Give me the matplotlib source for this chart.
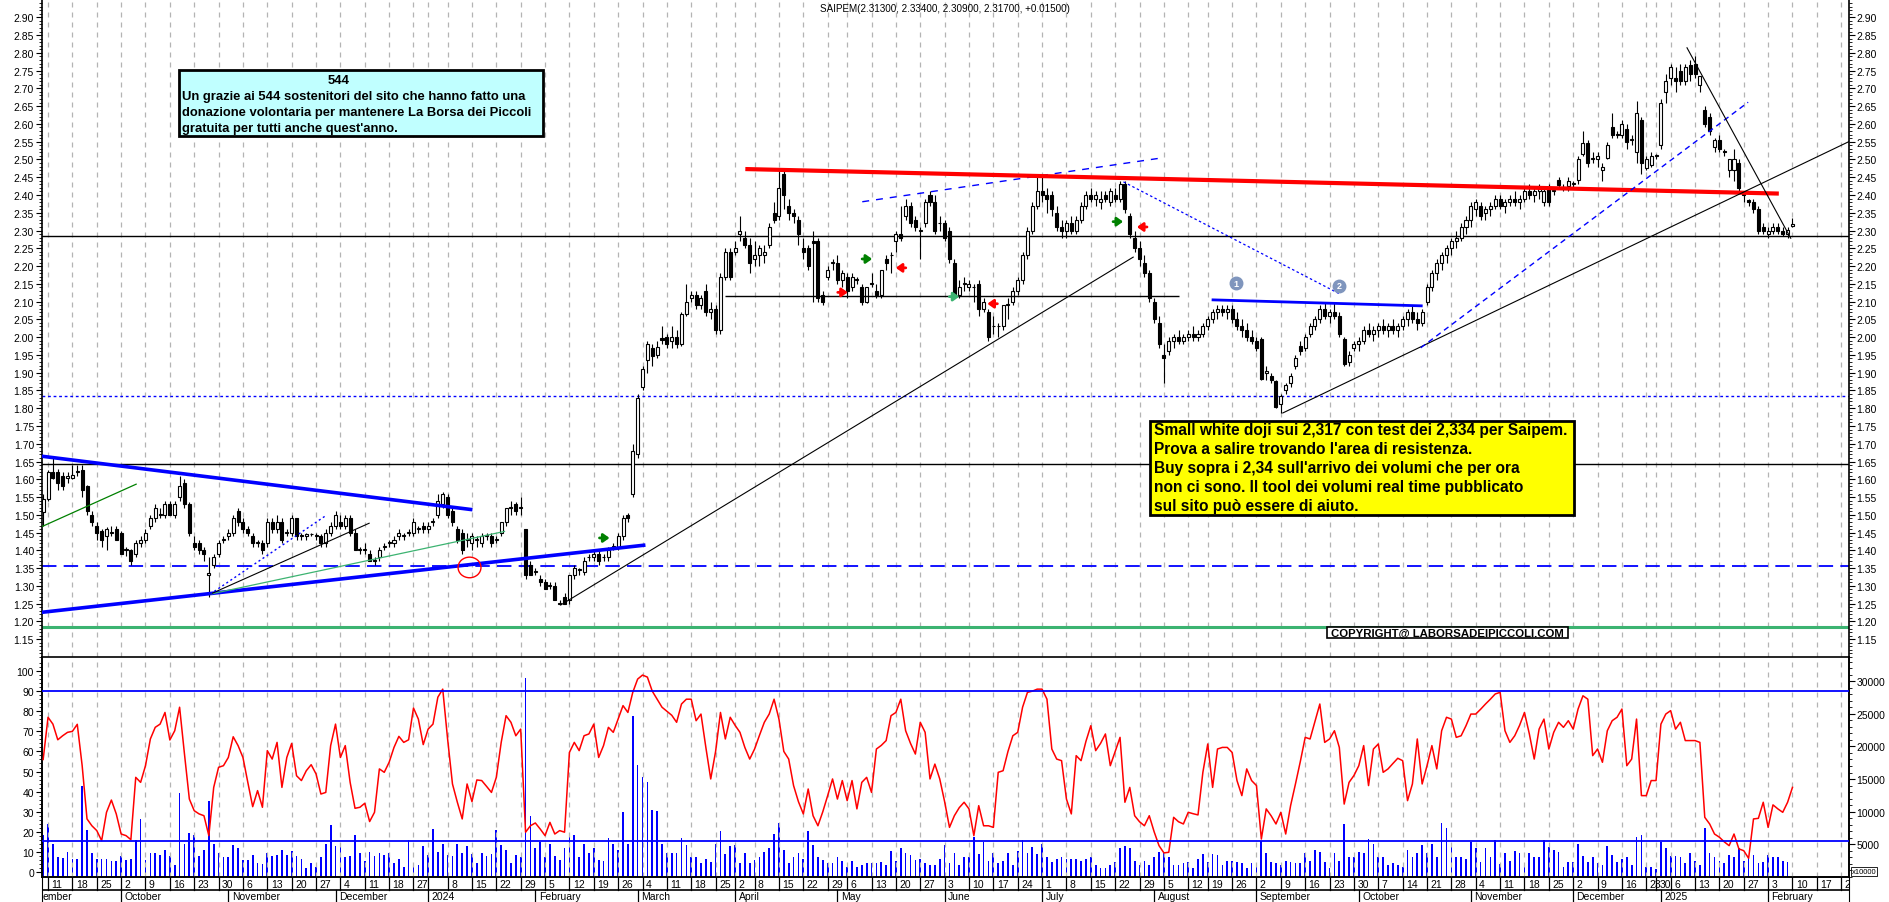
import numpy as np
import pandas as pd
import matplotlib
matplotlib.use('Agg')
import matplotlib.pyplot as plt
from matplotlib.patches import Rectangle, Ellipse

plt.rcParams['font.family'] = ['Liberation Sans', 'DejaVu Sans']

W, H = 1890, 903

# ---------------- data ----------------
holidays = ['2023-12-25', '2023-12-26', '2024-01-01', '2024-03-29', '2024-04-01',
            '2024-05-01', '2024-08-15', '2024-12-24', '2024-12-25', '2024-12-26',
            '2024-12-31', '2025-01-01']

opens = [
    1.507, 1.545, 1.62, 1.62, 1.61, 1.605, 1.605, 1.62, 1.625, 1.58,
    1.50, 1.47, 1.455, 1.44, 1.45, 1.46, 1.45, 1.40, 1.40, 1.39,
    1.42, 1.43, 1.47, 1.49, 1.50, 1.50, 1.53, 1.50, 1.55, 1.59,
    1.53, 1.42, 1.42, 1.40, 1.33, 1.36, 1.39, 1.43, 1.44, 1.45,
    1.51, 1.48, 1.46, 1.44, 1.42, 1.42, 1.42, 1.48, 1.46, 1.48,
    1.45, 1.45, 1.49, 1.44, 1.44, 1.445, 1.44, 1.44, 1.42, 1.45,
    1.47, 1.48, 1.47, 1.49, 1.45, 1.40, 1.40, 1.39, 1.37, 1.38,
    1.41, 1.42, 1.42, 1.44, 1.44, 1.45, 1.45, 1.46, 1.47, 1.46,
    1.48, 1.50, 1.53, 1.55, 1.51, 1.46, 1.45, 1.43, 1.42, 1.43,
    1.42, 1.44, 1.44, 1.43, 1.45, 1.48, 1.52, 1.53, 1.52, 1.46,
    1.36, 1.34, 1.32, 1.31, 1.30, 1.30, 1.25, 1.27, 1.26, 1.33,
    1.345, 1.34, 1.38, 1.38, 1.39, 1.38, 1.38, 1.41, 1.41, 1.44,
    1.50, 1.56, 1.67, 1.86, 1.935, 1.97, 1.95, 1.998, 2.00, 1.99,
    2.00, 1.98, 2.065, 2.11, 2.12, 2.09, 2.13, 2.07, 2.08, 2.02,
    2.17, 2.24, 2.24, 2.29, 2.28, 2.26, 2.22, 2.23, 2.23, 2.26,
    2.35, 2.34, 2.46, 2.37, 2.35, 2.33, 2.25, 2.25, 2.27, 2.27,
    2.12, 2.17, 2.21, 2.21, 2.16, 2.17, 2.14, 2.16, 2.14, 2.10,
    2.15, 2.13, 2.12, 2.22, 2.23, 2.27, 2.29, 2.34, 2.37, 2.33,
    2.30, 2.32, 2.40, 2.38, 2.32, 2.32, 2.30, 2.21, 2.12, 2.15,
    2.14, 2.14, 2.15, 2.08, 2.07, 2.03, 2.03, 2.03, 2.09, 2.10,
    2.13, 2.16, 2.23, 2.30, 2.37, 2.41, 2.40, 2.40, 2.35, 2.31,
    2.30, 2.32, 2.30, 2.33, 2.37, 2.40, 2.39, 2.38, 2.40, 2.38,
    2.40, 2.39, 2.43, 2.34, 2.28, 2.25, 2.21, 2.18, 2.10, 2.04,
    1.95, 1.96, 1.99, 2.00, 1.99, 2.00, 2.01, 2.00, 2.01, 2.03,
    2.05, 2.07, 2.08, 2.07, 2.08, 2.05, 2.03, 2.02, 2.00, 1.99,
    1.995, 1.90, 1.89, 1.878, 1.812, 1.85, 1.87, 1.92, 1.976, 1.97,
    2.01, 2.03, 2.05, 2.08, 2.06, 2.07, 2.06, 1.995, 1.93, 1.97,
    1.98, 1.99, 2.02, 2.01, 2.02, 2.03, 2.02, 2.03, 2.02, 2.03,
    2.05, 2.07, 2.05, 2.04, 2.10, 2.14, 2.18, 2.21, 2.23, 2.25,
    2.27, 2.28, 2.31, 2.33, 2.36, 2.37, 2.35, 2.36, 2.37, 2.39,
    2.37, 2.38, 2.39, 2.38, 2.39, 2.41, 2.40, 2.41, 2.38, 2.42,
    2.41, 2.441, 2.42, 2.425, 2.43, 2.441, 2.515, 2.545, 2.50, 2.50,
    2.47, 2.505, 2.59, 2.57, 2.57, 2.585, 2.555, 2.52, 2.61, 2.475,
    2.485, 2.51, 2.54, 2.69, 2.73, 2.73, 2.75, 2.72, 2.765, 2.77,
    2.71, 2.64, 2.62, 2.535, 2.555, 2.525, 2.47, 2.47, 2.49, 2.40,
    2.385, 2.38, 2.36, 2.31, 2.29, 2.30, 2.31, 2.30, 2.29, 2.313,
]
highs = [
    1.56, 1.625, 1.66, 1.63, 1.62, 1.62, 1.64, 1.64, 1.64, 1.585,
    1.51, 1.48, 1.46, 1.465, 1.47, 1.47, 1.455, 1.41, 1.405, 1.43,
    1.44, 1.46, 1.50, 1.53, 1.52, 1.54, 1.54, 1.54, 1.61, 1.60,
    1.535, 1.44, 1.43, 1.41, 1.38, 1.39, 1.43, 1.44, 1.46, 1.50,
    1.52, 1.49, 1.47, 1.45, 1.43, 1.43, 1.49, 1.49, 1.50, 1.49,
    1.46, 1.50, 1.49, 1.45, 1.45, 1.45, 1.45, 1.445, 1.46, 1.48,
    1.51, 1.50, 1.50, 1.50, 1.46, 1.41, 1.42, 1.40, 1.38, 1.41,
    1.42, 1.43, 1.44, 1.46, 1.45, 1.46, 1.49, 1.47, 1.48, 1.48,
    1.49, 1.56, 1.565, 1.56, 1.52, 1.47, 1.46, 1.45, 1.45, 1.44,
    1.45, 1.45, 1.45, 1.44, 1.48, 1.52, 1.54, 1.535, 1.55, 1.46,
    1.37, 1.35, 1.33, 1.32, 1.31, 1.31, 1.26, 1.28, 1.33, 1.36,
    1.35, 1.38, 1.39, 1.40, 1.40, 1.39, 1.41, 1.42, 1.45, 1.50,
    1.505, 1.70, 1.84, 1.92, 1.99, 1.98, 1.99, 2.03, 2.01, 2.03,
    2.02, 2.07, 2.15, 2.13, 2.13, 2.12, 2.15, 2.10, 2.09, 2.18,
    2.25, 2.25, 2.27, 2.34, 2.30, 2.28, 2.27, 2.26, 2.26, 2.32,
    2.38, 2.47, 2.47, 2.39, 2.36, 2.34, 2.28, 2.26, 2.30, 2.28,
    2.13, 2.20, 2.22, 2.23, 2.19, 2.18, 2.18, 2.17, 2.15, 2.14,
    2.18, 2.15, 2.19, 2.23, 2.24, 2.30, 2.37, 2.39, 2.38, 2.34,
    2.31, 2.39, 2.41, 2.40, 2.34, 2.33, 2.31, 2.22, 2.16, 2.17,
    2.16, 2.15, 2.16, 2.11, 2.08, 2.06, 2.04, 2.09, 2.11, 2.14,
    2.17, 2.24, 2.31, 2.38, 2.45, 2.46, 2.42, 2.41, 2.37, 2.33,
    2.33, 2.34, 2.34, 2.38, 2.41, 2.42, 2.41, 2.41, 2.41, 2.42,
    2.42, 2.44, 2.44, 2.35, 2.30, 2.27, 2.23, 2.19, 2.11, 2.06,
    1.98, 2.00, 2.01, 2.02, 2.01, 2.02, 2.03, 2.02, 2.04, 2.06,
    2.08, 2.09, 2.09, 2.09, 2.09, 2.07, 2.05, 2.04, 2.02, 2.00,
    2.00, 1.92, 1.90, 1.88, 1.84, 1.87, 1.90, 1.95, 1.99, 2.01,
    2.04, 2.06, 2.09, 2.10, 2.08, 2.10, 2.07, 2.00, 1.96, 1.99,
    2.00, 2.03, 2.04, 2.03, 2.04, 2.05, 2.04, 2.05, 2.04, 2.06,
    2.08, 2.09, 2.07, 2.08, 2.15, 2.19, 2.22, 2.24, 2.26, 2.28,
    2.30, 2.32, 2.34, 2.38, 2.39, 2.38, 2.37, 2.38, 2.40, 2.40,
    2.39, 2.40, 2.41, 2.40, 2.42, 2.43, 2.42, 2.43, 2.42, 2.43,
    2.42, 2.45, 2.43, 2.45, 2.44, 2.51, 2.58, 2.555, 2.52, 2.52,
    2.49, 2.55, 2.63, 2.58, 2.61, 2.60, 2.57, 2.665, 2.62, 2.51,
    2.52, 2.515, 2.67, 2.74, 2.77, 2.76, 2.77, 2.77, 2.78, 2.79,
    2.735, 2.65, 2.63, 2.56, 2.57, 2.53, 2.50, 2.53, 2.50, 2.41,
    2.39, 2.39, 2.37, 2.32, 2.31, 2.32, 2.32, 2.31, 2.31, 2.334,
]
lows = [
    1.47, 1.54, 1.60, 1.57, 1.57, 1.59, 1.60, 1.61, 1.55, 1.50,
    1.47, 1.43, 1.41, 1.40, 1.44, 1.43, 1.39, 1.385, 1.36, 1.38,
    1.41, 1.42, 1.46, 1.48, 1.49, 1.49, 1.50, 1.49, 1.54, 1.52,
    1.44, 1.40, 1.39, 1.37, 1.27, 1.35, 1.38, 1.42, 1.43, 1.44,
    1.47, 1.45, 1.44, 1.41, 1.41, 1.39, 1.41, 1.45, 1.45, 1.42,
    1.44, 1.44, 1.43, 1.43, 1.43, 1.44, 1.43, 1.41, 1.41, 1.44,
    1.46, 1.46, 1.46, 1.44, 1.40, 1.39, 1.39, 1.37, 1.36, 1.37,
    1.40, 1.41, 1.41, 1.43, 1.43, 1.44, 1.44, 1.45, 1.45, 1.45,
    1.47, 1.49, 1.52, 1.49, 1.47, 1.42, 1.39, 1.41, 1.40, 1.41,
    1.41, 1.43, 1.41, 1.42, 1.44, 1.47, 1.50, 1.50, 1.50, 1.32,
    1.33, 1.33, 1.30, 1.29, 1.29, 1.26, 1.245, 1.25, 1.25, 1.32,
    1.33, 1.33, 1.37, 1.37, 1.36, 1.37, 1.37, 1.40, 1.40, 1.43,
    1.48, 1.55, 1.66, 1.85, 1.90, 1.92, 1.94, 1.98, 1.97, 1.97,
    1.97, 1.975, 2.06, 2.10, 2.08, 2.08, 2.06, 2.05, 2.01, 2.01,
    2.16, 2.16, 2.23, 2.27, 2.25, 2.18, 2.20, 2.20, 2.21, 2.25,
    2.32, 2.33, 2.36, 2.33, 2.32, 2.26, 2.22, 2.19, 2.10, 2.10,
    2.09, 2.16, 2.19, 2.15, 2.14, 2.11, 2.13, 2.15, 2.09, 2.095,
    2.14, 2.11, 2.11, 2.19, 2.18, 2.24, 2.27, 2.33, 2.31, 2.30,
    2.22, 2.31, 2.37, 2.29, 2.30, 2.27, 2.21, 2.11, 2.11, 2.13,
    2.13, 2.10, 2.06, 2.07, 1.99, 2.01, 2.00, 2.02, 2.05, 2.09,
    2.12, 2.15, 2.22, 2.29, 2.36, 2.38, 2.35, 2.34, 2.30, 2.28,
    2.28, 2.29, 2.29, 2.32, 2.36, 2.38, 2.37, 2.36, 2.38, 2.37,
    2.38, 2.38, 2.35, 2.28, 2.24, 2.20, 2.17, 2.10, 2.04, 1.97,
    1.87, 1.95, 1.97, 1.98, 1.98, 1.99, 1.99, 1.99, 2.00, 2.02,
    2.04, 2.05, 2.06, 2.05, 2.04, 2.02, 2.00, 1.99, 1.98, 1.96,
    1.88, 1.88, 1.87, 1.80, 1.786, 1.84, 1.86, 1.91, 1.95, 1.96,
    2.00, 2.02, 2.04, 2.05, 2.04, 2.05, 2.00, 1.92, 1.92, 1.96,
    1.96, 1.98, 2.00, 1.99, 2.00, 2.01, 2.00, 2.01, 2.00, 2.02,
    2.03, 2.04, 2.02, 2.03, 2.09, 2.13, 2.16, 2.19, 2.21, 2.23,
    2.25, 2.27, 2.29, 2.31, 2.34, 2.33, 2.33, 2.34, 2.36, 2.36,
    2.35, 2.37, 2.37, 2.36, 2.38, 2.39, 2.38, 2.39, 2.37, 2.37,
    2.40, 2.42, 2.41, 2.41, 2.42, 2.43, 2.51, 2.48, 2.49, 2.48,
    2.44, 2.50, 2.56, 2.56, 2.56, 2.53, 2.54, 2.49, 2.46, 2.47,
    2.48, 2.50, 2.53, 2.66, 2.71, 2.69, 2.71, 2.71, 2.72, 2.73,
    2.69, 2.59, 2.57, 2.52, 2.52, 2.51, 2.45, 2.44, 2.41, 2.38,
    2.37, 2.35, 2.29, 2.29, 2.28, 2.29, 2.29, 2.285, 2.28, 2.309,
]
closes = [
    1.545, 1.62, 1.605, 1.59, 1.58, 1.61, 1.612, 1.62, 1.57, 1.51,
    1.48, 1.45, 1.43, 1.46, 1.452, 1.43, 1.39, 1.402, 1.37, 1.42,
    1.43, 1.45, 1.49, 1.52, 1.502, 1.53, 1.50, 1.53, 1.58, 1.53,
    1.45, 1.41, 1.40, 1.39, 1.335, 1.38, 1.42, 1.432, 1.45, 1.49,
    1.48, 1.46, 1.45, 1.42, 1.422, 1.40, 1.48, 1.46, 1.48, 1.43,
    1.452, 1.49, 1.44, 1.442, 1.445, 1.447, 1.442, 1.42, 1.45, 1.47,
    1.50, 1.47, 1.49, 1.45, 1.40, 1.40, 1.402, 1.37, 1.372, 1.40,
    1.412, 1.422, 1.43, 1.45, 1.442, 1.452, 1.48, 1.462, 1.46, 1.47,
    1.482, 1.54, 1.56, 1.50, 1.48, 1.43, 1.40, 1.432, 1.44, 1.432,
    1.44, 1.442, 1.42, 1.432, 1.48, 1.52, 1.522, 1.51, 1.52, 1.33,
    1.33, 1.342, 1.31, 1.29, 1.302, 1.26, 1.252, 1.25, 1.33, 1.35,
    1.346, 1.37, 1.382, 1.39, 1.37, 1.382, 1.40, 1.412, 1.44, 1.49,
    1.49, 1.68, 1.83, 1.91, 1.98, 1.946, 1.973, 1.993, 1.98, 2.00,
    1.982, 2.065, 2.10, 2.12, 2.09, 2.11, 2.07, 2.08, 2.02, 2.17,
    2.24, 2.17, 2.25, 2.30, 2.26, 2.21, 2.23, 2.25, 2.24, 2.31,
    2.33, 2.42, 2.40, 2.35, 2.34, 2.29, 2.24, 2.20, 2.265, 2.11,
    2.10, 2.19, 2.212, 2.16, 2.18, 2.13, 2.17, 2.162, 2.10, 2.14,
    2.152, 2.12, 2.19, 2.21, 2.232, 2.29, 2.28, 2.37, 2.32, 2.31,
    2.302, 2.38, 2.38, 2.30, 2.322, 2.28, 2.22, 2.12, 2.14, 2.152,
    2.15, 2.142, 2.08, 2.10, 2.00, 2.032, 2.03, 2.09, 2.092, 2.13,
    2.16, 2.23, 2.30, 2.37, 2.41, 2.40, 2.39, 2.36, 2.31, 2.30,
    2.32, 2.30, 2.33, 2.37, 2.40, 2.39, 2.40, 2.39, 2.39, 2.41,
    2.39, 2.43, 2.36, 2.29, 2.25, 2.22, 2.18, 2.11, 2.05, 1.98,
    1.94, 1.99, 2.00, 1.99, 2.00, 2.01, 2.00, 2.01, 2.03, 2.05,
    2.07, 2.08, 2.07, 2.08, 2.05, 2.03, 2.02, 2.00, 1.99, 1.97,
    1.883, 1.904, 1.88, 1.803, 1.834, 1.866, 1.89, 1.94, 1.96, 2.00,
    2.03, 2.05, 2.08, 2.06, 2.07, 2.06, 2.01, 1.925, 1.95, 1.98,
    1.99, 2.02, 2.01, 2.02, 2.03, 2.02, 2.03, 2.02, 2.03, 2.05,
    2.07, 2.05, 2.04, 2.07, 2.14, 2.18, 2.21, 2.23, 2.25, 2.27,
    2.28, 2.31, 2.33, 2.37, 2.38, 2.34, 2.36, 2.37, 2.39, 2.37,
    2.38, 2.39, 2.38, 2.39, 2.41, 2.40, 2.41, 2.42, 2.41, 2.38,
    2.415, 2.427, 2.422, 2.44, 2.432, 2.502, 2.545, 2.49, 2.505, 2.51,
    2.48, 2.54, 2.57, 2.572, 2.60, 2.55, 2.556, 2.63, 2.49, 2.50,
    2.51, 2.51, 2.66, 2.72, 2.76, 2.72, 2.72, 2.76, 2.74, 2.74,
    2.735, 2.60, 2.58, 2.555, 2.53, 2.522, 2.50, 2.50, 2.42, 2.402,
    2.38, 2.36, 2.30, 2.30, 2.30, 2.31, 2.30, 2.29, 2.302, 2.317,
]

# volume in thousands (right axis labels are in units of 1)
volume_k = [
    6.5, 8.1, 5.1, 3.1, 2.9, 3.8, 2.7, 2.7, 14.0, 7.2,
    3.7, 2.8, 2.8, 2.7, 2.4, 2.4, 3.2, 2.6, 2.8, 5.6,
    8.9, 2.6, 3.7, 3.7, 3.4, 4.2, 3.2, 1.8, 12.8, 5.1,
    6.8, 6.4, 3.2, 4.1, 11.7, 5.1, 3.6, 3.1, 3.1, 4.9,
    4.4, 2.6, 2.6, 3.4, 2.2, 2.0, 3.6, 3.2, 3.3, 4.2,
    3.4, 4.0, 3.2, 2.8, 1.4, 2.2, 1.5, 3.0, 5.0, 8.0,
    4.8, 4.6, 3.0, 3.2, 6.4, 3.6, 2.5, 3.8, 3.2, 3.6,
    3.4, 3.7, 2.1, 2.8, 1.6, 5.7, 1.6, 1.8, 4.7, 3.3,
    7.4, 3.9, 5.1, 3.4, 3.2, 5.0, 3.7, 4.7, 3.5, 2.2,
    3.6, 3.2, 3.5, 7.2, 4.9, 4.1, 2.2, 3.3, 3.0, 30.5,
    9.4, 4.4, 5.3, 3.1, 5.0, 3.2, 2.6, 4.4, 6.5, 6.5,
    3.1, 5.0, 3.7, 4.5, 2.6, 2.4, 5.9, 5.1, 4.2, 10.0,
    5.1, 24.7, 17.1, 15.3, 14.5, 10.3, 10.1, 5.1, 3.7, 3.7,
    3.7, 5.9, 4.9, 3.0, 3.0, 2.2, 2.8, 2.3, 5.1, 7.1,
    3.5, 4.7, 4.9, 2.2, 3.7, 2.2, 2.6, 3.1, 3.8, 4.4,
    6.6, 8.3, 4.2, 2.1, 3.0, 3.6, 2.8, 7.1, 4.9, 3.0,
    2.6, 2.2, 2.1, 3.0, 2.5, 1.6, 2.5, 1.6, 1.9, 2.2,
    2.2, 2.1, 2.3, 1.8, 4.0, 2.5, 4.5, 3.7, 3.3, 2.6,
    2.8, 2.2, 1.8, 1.8, 2.8, 4.9, 2.2, 3.6, 1.8, 3.0,
    3.0, 6.2, 3.5, 5.4, 2.4, 3.7, 2.2, 2.5, 3.7, 1.8,
    4.0, 5.6, 3.7, 4.6, 3.5, 5.1, 3.1, 2.3, 2.8, 3.1,
    2.8, 2.8, 2.8, 2.5, 2.8, 3.0, 1.8, 1.4, 1.4, 1.8,
    2.3, 4.5, 4.7, 4.5, 2.5, 1.9, 2.5, 1.9, 3.1, 3.8,
    3.7, 3.1, 1.9, 1.9, 2.2, 2.3, 1.4, 2.8, 3.5, 2.3,
    3.5, 3.3, 1.9, 2.5, 2.5, 2.3, 2.2, 1.4, 2.2, 2.0,
    5.5, 3.6, 2.3, 2.2, 1.8, 2.5, 2.3, 2.2, 2.1, 3.7,
    2.5, 4.2, 3.9, 2.3, 1.4, 3.7, 2.5, 8.1, 3.1, 3.0,
    3.9, 3.7, 5.8, 5.1, 3.1, 3.1, 1.8, 2.2, 1.8, 1.6,
    4.2, 3.0, 3.6, 4.9, 3.7, 5.0, 3.0, 8.3, 7.5, 5.1,
    3.1, 3.1, 2.8, 5.4, 4.4, 2.3, 4.5, 3.0, 5.6, 2.0,
    3.6, 2.5, 4.0, 3.6, 2.2, 3.6, 3.0, 3.1, 5.6, 4.6,
    4.1, 3.9, 1.6, 2.3, 2.3, 5.0, 3.2, 2.3, 3.0, 2.1,
    1.9, 4.8, 3.4, 2.3, 2.7, 3.0, 1.8, 6.2, 6.5, 1.6,
    1.6, 1.3, 5.4, 4.5, 3.2, 3.2, 3.1, 2.2, 3.6, 2.5,
    1.8, 7.5, 3.7, 3.1, 2.5, 2.2, 3.4, 3.0, 4.4, 2.5,
    2.9, 3.4, 2.2, 2.3, 3.4, 3.1, 3.1, 2.5, 2.3, 0.5,
]

rsi = [
    56, 77, 73.6, 65.8, 67.8, 69.5, 70, 73.5, 53, 26.4,
    23, 20.6, 15.6, 29.7, 35.8, 28.9, 18.9, 18.1, 16.1, 47.1,
    44.6, 52.9, 66.2, 72, 73.6, 79.4, 65.7, 70.3, 82, 58.7,
    36.3, 30.5, 28.9, 28, 18.1, 42.1, 52.1, 52.9, 57, 67.3,
    62.9, 57, 44.6, 32.5, 40.5, 32.2, 60.4, 56.2, 64.5, 42.1,
    57, 64, 47.9, 45.5, 50.4, 53.4, 48.8, 38.8, 39.6, 62.9,
    73.6, 57, 62.9, 44.6, 31.7, 32.2, 34.2, 25.1, 29.7, 51.3,
    49.6, 54.6, 62, 67.5, 64.5, 65.8, 81.6, 76.1, 63.4, 71.1,
    73.6, 87, 91, 66.2, 43.8, 34.7, 26.4, 43.8, 35, 45.8,
    45.5, 42.6, 39.6, 47.1, 64.5, 77.8, 74.5, 67.8, 71.1, 19.8,
    23, 24.4, 21.4, 18.1, 24.7, 18.9, 20.6, 19.8, 59.5, 64.5,
    60.4, 67.8, 68.7, 73.6, 57, 62.9, 72, 69.5, 76.1, 82.8,
    79.4, 89.4, 96, 98, 97, 90, 86, 82, 80, 78,
    74.5, 83.6, 86, 86, 75.3, 78.6, 62, 46.3, 60, 79.4,
    66.2, 77, 73, 69.5, 62, 56.2, 61.2, 68, 74.5, 78.6,
    86, 76.1, 60, 56.2, 43, 35, 28.9, 41.3, 28, 23,
    30, 38, 46.3, 36.3, 45.5, 35.5, 45.5, 31.4, 44.6, 47.1,
    39.6, 61.2, 63, 65.4, 77.8, 79.4, 86, 70.3, 64, 58.7,
    74.5, 69.5, 46.3, 53.7, 46.3, 35, 22.2, 28, 32, 34.7,
    31.4, 18.1, 33, 23, 23, 22.2, 49.6, 50.4, 60, 67.8,
    69.5, 82, 89.4, 90, 91, 91, 86, 61.2, 56.2, 55.4,
    36.3, 28.9, 57.9, 55.4, 65, 72.8, 60.4, 64, 68.7, 52.9,
    60, 67, 34.7, 42.1, 28, 25, 23, 28, 20, 13.1,
    9.5, 9.8, 27.2, 25, 23.9, 29.7, 29, 28.4, 49.6, 63.7,
    42.1, 61.2, 62, 62, 59.5, 45.5, 38, 51.3, 45.5, 43,
    16.4, 31.4, 28, 23.9, 29.7, 18.9, 33, 43.8, 55, 67,
    66.2, 75, 83.6, 64.5, 66.2, 70.3, 62, 33.8, 44.6, 48,
    52.9, 62.9, 43, 61.2, 63.7, 49.6, 51.3, 54, 56.6, 55.4,
    35.5, 43.8, 66.2, 43.8, 52.9, 62.9, 51.3, 70.3, 77, 76.1,
    67, 67.8, 72.8, 78.6, 78.6, 81, 83.6, 86, 88.6, 89.4,
    70.3, 64.5, 67.8, 73, 79.4, 68.7, 56.2, 71.1, 76.1, 61.2,
    69.5, 74.5, 72, 75.3, 71.1, 81.1, 87.7, 86, 57.9, 61.2,
    54.6, 70.3, 75.3, 77, 81.1, 52.9, 56.2, 76.1, 38, 38,
    45.5, 45.5, 73.6, 78.6, 80.3, 71.1, 74.5, 65.4, 65.4, 65.4,
    64.5, 27.2, 23.9, 18.9, 17.3, 15, 13.1, 18.9, 11.5, 10.6,
    6.8, 26.4, 26.7, 34.7, 22.2, 33.4, 31.4, 29.7, 34.7, 42.1,
]

month_names = ['January', 'February', 'March', 'April', 'May', 'June', 'July',
               'August', 'September', 'October', 'November', 'December']

# horizontal levels (price, color, linestyle, width)
h_levels = [
    (2.285, 'black', '-', 1.0),
    (1.8335, '#0000ff', (0, (2, 2)), 1.0),
    (1.642, 'black', '-', 1.0),
    (1.355, '#0000ff', (0, (8, 4)), 1.3),
    (1.1845, '#3cb371', '-', 2.2),
]

# drawn trend lines: (x0, y0, x1, y1, color, linestyle, width)
trend_lines = [
    (-0.3, 1.665, 88.1, 1.5145, '#0000ff', '-', 2.6),
    (-0.3, 1.2257, 123.6, 1.415, '#0000ff', '-', 2.6),
    (-0.3, 1.4667, 19.2, 1.587, '#008000', '-', 0.9),
    (34.3, 1.277, 94.8, 1.4537, '#3cb371', '-', 0.9),
    (34.3, 1.277, 67.0, 1.477, 'black', '-', 0.8),
    (34.3, 1.277, 58.2, 1.4996, '#0000ff', (0, (1.5, 2)), 1.0),
    (106.2, 1.2463, 223.8, 2.226, 'black', '-', 0.8),
    (140.0, 2.116, 233.2, 2.116, 'black', '-', 1.0),
    (168.1, 2.381, 228.9, 2.503, '#0000ff', (0, (5, 5)), 1.0),
    (144.1, 2.473, 356.2, 2.404, '#ff0000', '-', 3.0),
    (221.7, 2.437, 266.3, 2.120, '#0000ff', (0, (2, 2)), 0.9),
    (239.8, 2.105, 283.1, 2.088, '#0000ff', '-', 2.0),
    (254.3, 1.786, 370.7, 2.551, 'black', '-', 0.8),
    (282.7, 1.970, 349.9, 2.661, '#0000ff', (0, (4, 3)), 1.0),
    (337.3, 2.8156, 358.7, 2.277, 'black', '-', 0.8),
]

# small marker arrows (x, y, direction, color)
arrows = [
    (115.2, 1.435, 1, '#008000'),
    (169.1, 2.220, 1, '#008000'),
    (176.0, 2.195, -1, '#ff0000'),
    (164.1, 2.126, 1, '#ff0000'),
    (187.0, 2.114, 1, '#3cb371'),
    (194.8, 2.094, -1, '#ff0000'),
    (220.6, 2.325, 1, '#008000'),
    (225.5, 2.310, -1, '#ff0000'),
]
circled_numbers = [(244.7, 2.151, '1'), (265.9, 2.144, '2')]

# ---------------- axes geometry ----------------
n = len(closes)
x = np.arange(n)

days = pd.bdate_range('2023-08-28', '2025-02-28')
days = days[~days.isin(pd.to_datetime(holidays))]
pos0 = days.get_loc(pd.Timestamp('2023-09-08'))
day_x = np.arange(len(days)) - pos0

xmin, xmax = -0.3, 370.6

fig = plt.figure(figsize=(W / 100, H / 100), dpi=100)
left_px, right_px = 41.7, 1849
ax = fig.add_axes([left_px / W, 1 - 658 / H, (right_px - left_px) / W, 658 / H])
ax2 = fig.add_axes([left_px / W, 1 - 878 / H, (right_px - left_px) / W, 220 / H], sharex=ax)
ax3 = fig.add_axes([left_px / W, 0, (right_px - left_px) / W, 25 / H], sharex=ax)
axv = ax2.twinx()
axv.set_zorder(1)
ax2.set_zorder(2)
ax2.patch.set_visible(False)

ax.set_xlim(xmin, xmax)
ax.set_ylim(1.100, 2.9515)

# week start gridlines
week_key = days.isocalendar().year.astype(str) + '-' + days.isocalendar().week.astype(str)
ws = pd.Series(day_x, index=days).groupby(week_key.values).min()
week_starts = sorted(ws.values)
for w in week_starts:
    if xmin < w < xmax:
        for a in (ax, ax2):
            a.axvline(w, color='#b4b4b4', ls=(0, (4, 4)), lw=0.9, zorder=0)

# horizontal levels
for yv, col, ls, lw in h_levels:
    ax.axhline(yv, color=col, ls=ls, lw=lw, zorder=2)

# trend lines
for x0, y0, x1, y1, col, ls, lw in trend_lines:
    ax.plot([x0, x1], [y0, y1], color=col, ls=ls, lw=lw, zorder=5, solid_capstyle='butt')

# candles
o = np.array(opens); hi = np.array(highs); lo = np.array(lows); c = np.array(closes)
up = c >= o
ax.vlines(x, lo, hi, color='black', lw=0.8, zorder=3)
body_lo = np.minimum(o, c)
body_h = np.maximum(np.abs(c - o), 0.0025)
ax.bar(x[up], body_h[up], bottom=body_lo[up], width=0.62, color='white',
       edgecolor='black', linewidth=0.8, zorder=4)
ax.bar(x[~up], body_h[~up], bottom=body_lo[~up], width=0.62, color='black',
       edgecolor='black', linewidth=0.8, zorder=4)

# red circle
ax.add_patch(Ellipse((87.5, 1.352), 4.7, 0.058, fill=False, ec='#ff0000', lw=1.0, zorder=6))

# arrows
for ax_, ay, d, col in arrows:
    ax.annotate('', xy=(ax_ + 1.6 * d, ay), xytext=(ax_ - 1.6 * d, ay),
                arrowprops=dict(arrowstyle='-|>,head_width=0.25,head_length=0.35',
                                color=col, lw=2.0), zorder=7)

for cx, cy, t in circled_numbers:
    ax.plot(cx, cy, 'o', ms=9, color='#7f95bd', zorder=7)
    ax.text(cx, cy, t, color='white', fontsize=6.5, fontweight='bold',
            ha='center', va='center', zorder=8)

# price axis ticks
major = np.round(np.arange(1.15, 2.9001, 0.05), 2)
ax.set_yticks(major)
ax.set_yticklabels([f'{v:.2f}' for v in major])
ax.set_yticks(np.round(np.arange(1.10, 2.95, 0.01), 2), minor=True)
ax.tick_params(axis='y', which='major', left=True, right=True, labelleft=True,
               labelright=True, direction='out', length=4, width=0.8, labelsize=7.5, pad=1.5)
ax.tick_params(axis='y', which='minor', left=True, right=True, direction='out',
               length=2, width=0.6)
ax.tick_params(axis='x', which='both', bottom=False, labelbottom=False)
ax.spines['top'].set_visible(False)
for s in ('left', 'right', 'bottom'):
    ax.spines[s].set_linewidth(1.2)

# lower panel: oscillator + volume
axv.bar(x, np.array(volume_k) * 1000, width=0.35, color='#0000ff', zorder=2)
axv.set_ylim(0, 33700)
axv.set_yticks(np.arange(5000, 30001, 5000))
axv.set_yticks(np.arange(0, 33001, 1000), minor=True)
axv.tick_params(axis='y', which='major', direction='out', length=4, width=0.8,
                labelsize=7.5, pad=1.5)
axv.tick_params(axis='y', which='minor', direction='out', length=2, width=0.6)

ax2.plot(x, rsi, color='#ff0000', lw=1.1, zorder=3)
ax2.axhline(90, color='#0000ff', lw=1.3, zorder=4)
ax2.axhline(15.5, color='#0000ff', lw=1.3, zorder=4)
ax2.set_ylim(-2.5, 107)
ax2.set_yticks(np.arange(0, 101, 10))
ax2.set_yticks(np.arange(0, 105, 2), minor=True)
ax2.tick_params(axis='y', which='major', direction='out', length=4, width=0.8,
                labelsize=7.5, pad=1.5)
ax2.tick_params(axis='y', which='minor', direction='out', length=2, width=0.6)
ax2.tick_params(axis='x', which='both', bottom=False, labelbottom=False)
for a in (ax2, axv):
    a.spines['top'].set_visible(False)
    for s in ('left', 'right', 'bottom'):
        a.spines[s].set_linewidth(1.2)

# date strip
ax3.set_ylim(0, 1)
ax3.set_yticks([])
ax3.tick_params(axis='x', which='both', bottom=False, labelbottom=False)
ax3.spines['top'].set_visible(False)
ax3.spines['bottom'].set_visible(False)
ax3.axhline(0.48, color='black', lw=1.2)
year_starts = set()
mon = pd.Series(day_x, index=days).groupby([days.year, days.month]).min()
for (yy, mm), mx in mon.items():
    if mm == 1:
        year_starts.add(mx)
for w in week_starts:
    if xmin < w < xmax:
        ax3.plot([w, w], [0.48, 1], color='black', lw=0.9)
        if w in year_starts:
            continue
        d = days[list(day_x).index(w)]
        ax3.text(w + 0.7, 0.73, str(d.day), fontsize=7.5, ha='left', va='center', clip_on=True)
for (yy, mm), mx in mon.items():
    if mx > xmax:
        continue
    if mx > xmin:
        ax3.plot([mx, mx], [0, 0.48], color='black', lw=0.9)
        label = str(yy) if mm == 1 else month_names[mm - 1]
        ax3.text(mx + 0.7, 0.22, label, fontsize=7.5, ha='left', va='center', clip_on=True)
    elif mm == 9:
        # month started before the first bar: only its tail is visible
        ax3.text(xmin + 0.1, 0.22, 'ember', fontsize=7.5, ha='left', va='center')

# title
fig.text(945 / W, 1 - 9 / H, 'SAIPEM(2.31300, 2.33400, 2.30900, 2.31700, +0.01500)',
         ha='center', va='center', fontsize=7.1)


def fig_box(x0, y0, x1, y1, fc, lw):
    fig.add_artist(Rectangle((x0 / W, 1 - y1 / H), (x1 - x0) / W, (y1 - y0) / H,
                             transform=fig.transFigure, fc=fc, ec='black', lw=lw, zorder=10))


# supporters box
fig_box(179, 71, 543, 137, '#c0ffff', 2.0)
fig.text(339 / W, 1 - 80.5 / H, '544', ha='center', va='center', fontsize=9.4,
         fontweight='bold', zorder=11)
cyan_lines = ['Un grazie ai 544 sostenitori del sito che hanno fatto una',
              'donazione volontaria per mantenere La Borsa dei Piccoli',
              "gratuita per tutti anche quest'anno."]
for i, s in enumerate(cyan_lines):
    fig.text(182.5 / W, 1 - (97 + 16 * i) / H, s, ha='left', va='center', fontsize=9.4,
             fontweight='bold', zorder=11)

# comment box
fig_box(1150, 421.7, 1574, 515.7, '#ffff00', 2.0)
yellow_lines = ['Small white doji sui 2,317 con test dei 2,334 per Saipem.',
                "Prova a salire trovando l'area di resistenza.",
                "Buy sopra i 2,34 sull'arrivo dei volumi che per ora",
                'non ci sono. Il tool dei volumi real time pubblicato',
                'sul sito può essere di aiuto.']
for i, s in enumerate(yellow_lines):
    fig.text(1153.5 / W, 1 - (431 + 18.8 * i) / H, s, ha='left', va='center', fontsize=11.2,
             fontweight='bold', zorder=11)

# copyright
fig_box(1326.7, 627.7, 1568, 639.3, 'white', 1.2)
fig.text(1447 / W, 1 - 633.5 / H, 'COPYRIGHT@ LABORSADEIPICCOLI.COM', ha='center', va='center',
         fontsize=8.2, fontweight='bold', zorder=11)

fig.text(1864 / W, 1 - 872.5 / H, 'x10000', fontsize=5.5, ha='center', va='center',
         bbox=dict(boxstyle='square,pad=0.15', fc='white', ec='black', lw=0.6))

fig.savefig('out.png', dpi=100)
